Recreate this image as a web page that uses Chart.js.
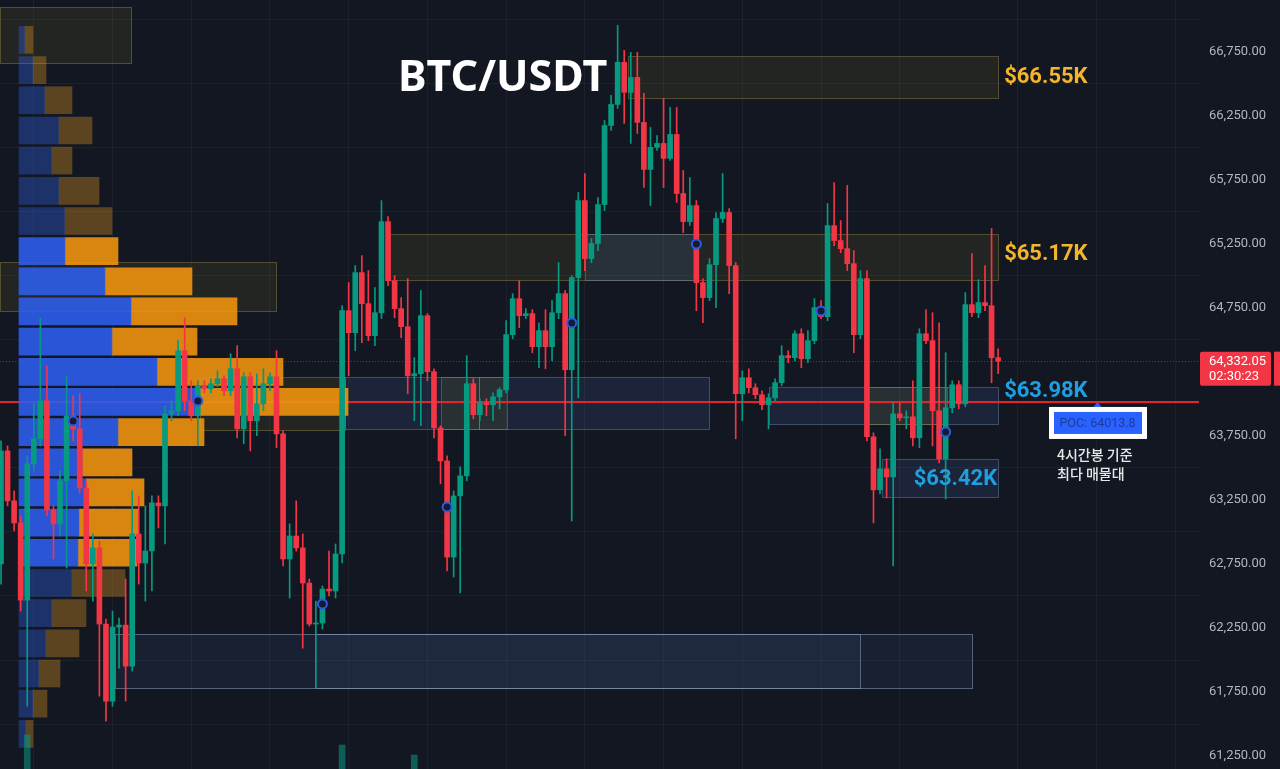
<!DOCTYPE html>
<html>
<head>
<meta charset="utf-8">
<title>BTC/USDT</title>
<script src="https://cdn.jsdelivr.net/npm/chart.js@4.4.1/dist/chart.umd.min.js"></script>
<style>
html,body{margin:0;padding:0;background:#131722;overflow:hidden;}
#box{width:1280px;height:769px;position:relative;}
canvas{display:block;}
</style>
</head>
<body>
<div id="box"><canvas id="chart" width="1280" height="769"></canvas></div>
<script>
// ---------------- DATA (4h candles, BTC/USDT) ----------------
const candleOpen = [62750,63632,63242,63070,62468,63531,63726,64023,63171,63062,
 63398,63906,63804,63343,62750,62875,62281,61679,62257,62273,
 61953,62984,62757,62851,63226,63203,63921,63945,64414,64023,
 63906,64140,64117,64156,64195,64101,64273,63804,64210,63867,
 63999,64156,64210,63765,62789,62968,62875,62601,62281,62289,
 62554,62539,62828,64726,64554,65023,64781,64531,64710,65421,
 64960,64742,64601,64218,64234,64687,64250,63812,63554,62804,
 63281,63437,64156,63914,64007,63992,64054,64109,64539,64820,
 64687,64703,64445,64570,64445,64710,64859,64265,64984,65585,
 65132,65250,65554,66171,66335,66664,66429,66546,66195,65828,
 66000,66031,65914,66101,65640,65421,65546,64945,64828,65085,
 65445,65492,65078,64078,64203,64125,64070,63992,64046,64164,
 64375,64359,64546,64351,64492,64750,64679,65390,65273,65210,
 65093,64539,64976,63742,63328,63492,63429,63921,63890,63898,
 63734,64546,64492,63945,63570,63968,64148,63999,64773,64710,
 64789,64765,64359];
const candleHigh = [63710,63671,63320,63125,63593,63999,64671,64296,63203,63476,
 64218,64062,64078,63398,62984,62929,62320,62382,62328,62632,
 63320,63281,63203,63281,63281,63984,64023,64492,64671,64179,
 64179,64179,64195,64257,64218,64390,64453,64242,64242,64234,
 64273,64242,64414,63789,63062,63242,62984,62632,62460,62578,
 62851,62906,64765,64945,65078,65156,65039,64906,65585,65460,
 65000,64828,64976,64359,64882,64703,64273,63828,63593,63320,
 63507,64375,64195,64039,64039,64085,64125,64648,64859,64960,
 64742,64734,64632,64734,64804,65101,64882,65000,65648,65796,
 65289,65609,66210,66406,66953,66757,66742,66742,66421,66156,
 66093,66382,66312,66312,65820,65765,65585,64976,65132,65492,
 65796,65523,65101,64257,64273,64156,64101,64078,64195,64453,
 64414,64570,64585,64570,64820,64804,65562,65726,65429,65703,
 65195,65039,65039,63773,63648,63570,64007,64007,63945,64179,
 64585,64734,64710,64632,64398,64179,64179,64867,65171,64968,
 65078,65367,64429];
const candleLow = [62593,63203,63007,62382,61640,63476,63671,63125,62789,62968,
 62718,63710,63304,62539,62460,61718,61523,61640,61937,61679,
 61914,62593,62460,62539,63031,62906,63867,63906,63945,63867,
 63671,64085,64085,64132,64062,64062,63734,63687,63632,63750,
 63945,64101,63656,62734,62484,62851,62093,62265,61781,62242,
 62500,62484,62757,64218,64414,64476,64492,64453,64664,64921,
 64671,64515,64078,63867,63828,64179,63734,63375,62695,62648,
 62523,63398,63882,63867,63906,63867,63960,64085,64507,64593,
 64664,64398,64281,64273,64335,64664,63750,63085,64046,65039,
 65101,65195,65507,66132,66304,66187,66031,66109,65687,65546,
 65976,65687,65898,65570,65335,65390,64726,64632,64804,64750,
 65414,64859,63726,63867,64085,64039,63953,63804,64023,64140,
 64320,64335,64281,64320,64468,64664,64648,65234,65179,65039,
 64398,64507,63710,63070,63296,63265,62734,63867,63804,63671,
 63656,64468,63671,63539,63257,63929,63960,63976,64679,64671,
 64726,64164,64234];
const candleClose = [63632,63242,63070,62468,63531,63726,64023,63171,63062,63398,
 63906,63804,63343,62750,62875,62281,61679,62257,62273,61953,
 62984,62757,62851,63226,63203,63921,63945,64414,64023,63906,
 64140,64117,64156,64195,64101,64273,63804,64210,63867,63999,
 64156,64210,63765,62789,62968,62875,62601,62281,62289,62554,
 62539,62828,64726,64554,65023,64781,64531,64710,65421,64960,
 64742,64601,64218,64234,64687,64250,63812,63554,62804,63281,
 63437,64156,63914,64007,63992,64054,64109,64539,64820,64687,
 64703,64445,64570,64445,64710,64859,64265,64984,65585,65132,
 65250,65554,66171,66335,66664,66429,66546,66195,65828,66000,
 66031,65914,66101,65640,65421,65546,64945,64828,65085,65445,
 65492,65078,64078,64203,64125,64070,63992,64046,64164,64375,
 64359,64546,64351,64492,64750,64679,65390,65273,65210,65093,
 64539,64976,63742,63328,63492,63429,63921,63890,63898,63734,
 64546,64492,63945,63570,63968,64148,63999,64773,64710,64789,
 64765,64359,64332.05];

// pivot markers (candle index, price)
const markIdx = [11,30,49,68,87,106,125,144];
const markPrice = [63865,64021,62438,63194,64630,65246,64724,63780];

// volume histogram tails visible at the bottom edge
const volIdx = [4,52,63];
const volValue = [884,624,364];

// volume profile (price bin centre, up volume, down volume)
const profilePrice = [66839,66603,66368,66132,65897,65661,65426,65191,64955,64720,64484,64249,
 64014,63778,63543,63308,63072,62837,62601,62366,62130,61895,61660,61424];
const profileUp = [60,140,260,400,330,400,460,460,860,1120,930,1380,1760,990,630,670,600,590,530,330,270,200,140,70];
const profileDown = [80,130,270,330,200,400,470,530,870,1060,850,1260,1530,860,500,580,590,590,530,340,330,210,140,70];
const valueArea = [7,17];   // first and last bin inside the value area

// zones: candle-index range and price range
const zoneFrom = [-0.2, 95.6, 59.3, -0.2, 30.3, 52.4, 89.0, 117.0, 67.0, 72.9, 132.0, 134.3, 17.4, 47.9];
const zoneTo   = [19.8, 152.0, 152.0, 41.9, 52.4, 108.0, 106.3, 152.0, 72.9, 77.1, 144.2, 152.0, 148.0, 131.0];
const zoneHigh = [67095, 66713, 65324, 65106, 64209, 64209, 65324, 64131, 64209, 64209, 64131, 63569, 62204, 62204];
const zoneLow  = [66658, 66385, 64966, 64724, 63795, 63803, 64966, 63842, 63803, 63803, 63842, 63272, 61782, 61782];
const zoneKind = ['supply','supply','supply','supply','supply','demand','demand','demand','supply','supply','supply','demand','range','range'];

// level labels
const levelText = ['$66.55K','$65.17K','$63.98K','$63.42K'];
const levelPrice = [66549, 65168, 64099, 63405];
const levelKind = ['res','res','sup','sup'];
const levelInside = [false,false,false,true];

const yTicks = [61250,61750,62250,62750,63250,63750,64250,64750,65250,65750,66250,66750];
const gridIdx = [5,17,29,41,53,65,77,89,101,113,125,137,155,167,179];

const pocPrice = 64013.8;
const lastPrice = 64332.05;
const countdown = '02:30:23';
const titleText = 'BTC/USDT';
const noteLines = ['4시간봉 기준', '최다 매물대'];

// ---------------- STYLE ----------------
const GREEN = '#089981', RED = '#f23645';
const X_MIN = -0.152, X_MAX = 182.62;
const Y_MIN = 61150, Y_MAX = 67150;
const zoneStyle = {
  supply: {fill: 'rgba(128,120,40,0.15)', stroke: 'rgba(150,140,70,0.45)'},
  demand: {fill: 'rgba(80,120,190,0.14)', stroke: 'rgba(110,140,180,0.45)'},
  range:  {fill: 'rgba(80,120,190,0.10)', stroke: 'rgba(140,160,190,0.55)'}
};
const levelColor = {res: '#f2b52b', sup: '#1e9fe2'};

const isUp = i => candleClose[i] >= candleOpen[i];
const inVA = k => k >= valueArea[0] && k <= valueArea[1];

const overlay = {
  id: 'overlay',
  beforeDatasetsDraw(chart) {
    const {ctx, chartArea: a, scales: {x, y}} = chart;
    ctx.save();
    ctx.beginPath(); ctx.rect(a.left, a.top, a.right - a.left, a.bottom - a.top); ctx.clip();
    for (let i = 0; i < zoneFrom.length; i++) {
      const x0 = Math.round(x.getPixelForValue(zoneFrom[i])) + 0.5;
      const x1 = Math.round(x.getPixelForValue(zoneTo[i])) + 0.5;
      const y0 = Math.round(y.getPixelForValue(zoneHigh[i])) + 0.5;
      const y1 = Math.round(y.getPixelForValue(zoneLow[i])) + 0.5;
      const st = zoneStyle[zoneKind[i]];
      ctx.fillStyle = st.fill; ctx.fillRect(x0, y0, x1 - x0, y1 - y0);
      ctx.strokeStyle = st.stroke; ctx.lineWidth = 1; ctx.strokeRect(x0, y0, x1 - x0, y1 - y0);
    }
    const yc = Math.round(y.getPixelForValue(lastPrice)) + 0.5;
    ctx.setLineDash([1, 2]); ctx.strokeStyle = 'rgba(242,54,69,0.55)'; ctx.lineWidth = 1;
    ctx.beginPath(); ctx.moveTo(a.left, yc); ctx.lineTo(a.right, yc); ctx.stroke();
    ctx.setLineDash([]);
    const yp = y.getPixelForValue(pocPrice);
    ctx.strokeStyle = '#e0262b'; ctx.lineWidth = 2;
    ctx.beginPath(); ctx.moveTo(a.left, yp); ctx.lineTo(a.right, yp); ctx.stroke();
    ctx.restore();
  },
  afterDraw(chart) {
    const {ctx, chartArea: a, scales: {x, y}} = chart;
    ctx.save();
    // title
    ctx.fillStyle = '#ffffff';
    ctx.font = "bold 43px 'Noto Sans', sans-serif";
    ctx.textAlign = 'left'; ctx.textBaseline = 'alphabetic';
    ctx.fillText(titleText, 398, 91);
    // level labels
    const xe = x.getPixelForValue(candleOpen.length - 1);
    ctx.font = "bold 22px Roboto, sans-serif";
    ctx.textBaseline = 'middle';
    levelText.forEach((t, k) => {
      ctx.fillStyle = levelColor[levelKind[k]];
      const yy = y.getPixelForValue(levelPrice[k]);
      if (levelInside[k]) { ctx.textAlign = 'right'; ctx.fillText(t, xe - 1, yy); }
      else { ctx.textAlign = 'left'; ctx.fillText(t, xe + 6, yy); }
    });
    // POC tag
    const yp = y.getPixelForValue(pocPrice);
    const cx = 1097.5;
    ctx.fillStyle = '#2962ff';
    ctx.beginPath(); ctx.moveTo(cx, yp); ctx.lineTo(cx + 5, yp + 6); ctx.lineTo(cx - 5, yp + 6); ctx.closePath(); ctx.fill();
    ctx.fillStyle = '#ffffff'; ctx.fillRect(1049, yp + 5, 98, 32);
    ctx.fillStyle = '#2962ff'; ctx.fillRect(1054, yp + 10, 88, 22);
    ctx.fillStyle = '#1d3c9c';
    ctx.font = "12.5px Roboto, sans-serif";
    ctx.textAlign = 'center'; ctx.textBaseline = 'middle';
    ctx.fillText('POC: ' + pocPrice.toFixed(1), cx, yp + 21.5);
    ctx.fillStyle = '#e8e8e8';
    ctx.font = "500 14px 'Noto Sans CJK KR', sans-serif";
    ctx.textAlign = 'left';
    ctx.fillText(noteLines[0], 1057, yp + 53);
    ctx.fillText(noteLines[1], 1057, yp + 72);
    // last price tag
    const yc = y.getPixelForValue(lastPrice);
    ctx.fillStyle = RED;
    ctx.beginPath();
    if (ctx.roundRect) ctx.roundRect(1200, yc - 9.5, 71, 34, 2); else ctx.rect(1200, yc - 9.5, 71, 34);
    ctx.fill();
    ctx.fillRect(1274, yc - 9.5, 6, 34);
    ctx.fillStyle = '#ffffff';
    ctx.font = "13px Roboto, sans-serif";
    ctx.textAlign = 'left'; ctx.textBaseline = 'middle';
    ctx.fillText(lastPrice.toLocaleString('en-US', {minimumFractionDigits: 2, maximumFractionDigits: 2}), 1209, yc + 1);
    ctx.fillText(countdown, 1209, yc + 16);
    ctx.restore();
  }
};

const wickData = candleOpen.map((o, i) => ({x: i, y: [candleLow[i], candleHigh[i]]}));
const bodyData = candleOpen.map((o, i) => ({x: i, y: [o, candleClose[i]]}));

new Chart(document.getElementById('chart'), {
  type: 'bar',
  data: {
    datasets: [
      {type: 'scatter', data: markIdx.map((v, k) => ({x: v, y: markPrice[k]})),
        pointRadius: 4.5, pointBorderWidth: 2, borderColor: '#2f5be0', backgroundColor: '#141b35',
        pointBackgroundColor: '#141b35', pointBorderColor: '#2f5be0', order: 1},
      {type: 'bar', data: bodyData, xAxisID: 'x', yAxisID: 'y', grouped: false, barThickness: 5, minBarLength: 1,
        backgroundColor: c => isUp(c.dataIndex) ? GREEN : RED, borderWidth: 0, order: 2},
      {type: 'bar', data: wickData, xAxisID: 'x', yAxisID: 'y', grouped: false, barThickness: 1,
        backgroundColor: c => isUp(c.dataIndex) ? GREEN : RED, borderWidth: 0, order: 3},
      {type: 'bar', data: volIdx.map((v, k) => ({x: v, y: volValue[k]})), xAxisID: 'x', yAxisID: 'yv', grouped: false,
        barThickness: 6, backgroundColor: 'rgba(8,153,129,0.55)', order: 4},
      {type: 'bar', indexAxis: 'y', data: profilePrice.map((p, k) => ({y: p, x: [0, profileUp[k]]})),
        xAxisID: 'xv', yAxisID: 'y', grouped: false, barThickness: 27, borderWidth: 0,
        backgroundColor: c => inVA(c.dataIndex) ? 'rgba(46,95,239,0.88)' : 'rgba(50,100,237,0.35)', order: 5},
      {type: 'bar', indexAxis: 'y', data: profilePrice.map((p, k) => ({y: p, x: [profileUp[k], profileUp[k] + profileDown[k]]})),
        xAxisID: 'xv', yAxisID: 'y', grouped: false, barThickness: 27, borderWidth: 0,
        backgroundColor: c => inVA(c.dataIndex) ? 'rgba(244,150,14,0.88)' : 'rgba(228,152,28,0.35)', order: 6}
    ]
  },
  options: {
    responsive: false, animation: false, events: [],
    layout: {padding: 0, autoPadding: false},
    plugins: {legend: {display: false}, tooltip: {enabled: false}, title: {display: false}},
    scales: {
      x: {type: 'linear', position: 'bottom', min: X_MIN, max: X_MAX, offset: false,
        grid: {color: 'rgba(255,255,255,0.045)', drawTicks: false, offset: false}, border: {display: false},
        ticks: {display: false},
        afterBuildTicks: s => { s.ticks = gridIdx.map(v => ({value: v})); },
        afterFit: s => { s.height = 0; s.paddingLeft = 0; s.paddingRight = 0; }},
      y: {type: 'linear', position: 'right', min: Y_MIN, max: Y_MAX, offset: false, beginAtZero: false,
        grid: {color: 'rgba(255,255,255,0.045)', drawTicks: false}, border: {display: false},
        ticks: {color: '#b2b5be', font: {family: 'Roboto', size: 13}, padding: 10, autoSkip: false,
          callback: v => Number(v).toLocaleString('en-US', {minimumFractionDigits: 2, maximumFractionDigits: 2})},
        afterBuildTicks: s => { s.ticks = yTicks.map(v => ({value: v})); },
        afterFit: s => { s.width = 81; s.paddingTop = 0; s.paddingBottom = 0; }},
      xv: {type: 'linear', display: false, min: -190, max: 11800, offset: false},
      yv: {type: 'linear', display: false, min: 0, max: 20000, offset: false}
    }
  },
  plugins: [overlay]
});
</script>
</body>
</html>
